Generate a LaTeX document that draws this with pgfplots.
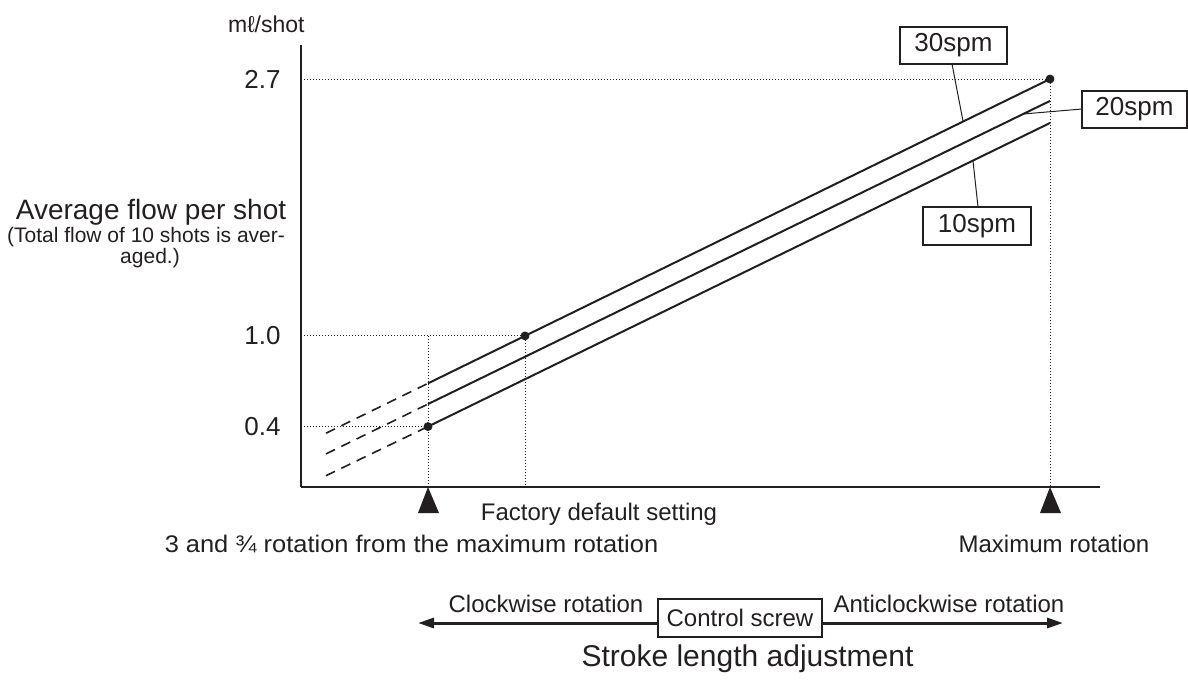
\documentclass[border=0pt]{standalone}
\usepackage{pgfplots}
\pgfplotsset{compat=1.18}
\usetikzlibrary{arrows.meta}
\usepackage{fontspec}
\setmainfont{Liberation Sans}
\definecolor{ink}{RGB}{35,31,32}
\begin{document}
\begin{tikzpicture}
\begin{scope}[x=0.5pt,y=-0.5pt]
\useasboundingbox (0,0) rectangle (1188,682);
\end{scope}
\begin{axis}[
 at={(150.5pt,-243.5pt)}, anchor=south west,
 scale only axis, width=399.5pt, height=221pt,
 xmin=301, xmax=1100, ymin=0, ymax=2.925,
 axis x line=bottom, axis y line=left,
 axis line style={-, line width=1pt, color=ink},
 xtick=\empty, ytick={0.4,1.0,2.7}, yticklabels={0.4,1.0,2.7},
 major tick length=0pt, tick style={draw=none},
 yticklabel style={font=\fontsize{13}{15}\selectfont, color=ink, inner sep=0pt, anchor=east, xshift=-10pt},
 clip=false,
]
% dotted guide lines
\addplot [ink, line width=0.5pt, dash pattern=on 0.6pt off 0.9pt] coordinates {(301,2.7) (1050,2.7) (1050,0)};
\addplot [ink, line width=0.5pt, dash pattern=on 0.6pt off 0.9pt] coordinates {(301,1.0) (525,1.0) (525,0)};
\addplot [ink, line width=0.5pt, dash pattern=on 0.6pt off 0.9pt] coordinates {(428,1.0) (428,0)};
\addplot [ink, line width=0.5pt, dash pattern=on 0.6pt off 0.9pt] coordinates {(301,0.4) (428,0.4)};
% 30 spm
\addplot [ink, line width=1pt] coordinates {(428,0.686) (1050,2.7)};
\addplot [ink, line width=0.8pt, dash pattern=on 5pt off 3.5pt] coordinates {(326,0.356) (428,0.686)};
% 20 spm
\addplot [ink, line width=1pt] coordinates {(428,0.549) (1050,2.555)};
\addplot [ink, line width=0.8pt, dash pattern=on 5pt off 3.5pt] coordinates {(326,0.219) (428,0.549)};
% 10 spm
\addplot [ink, line width=1pt] coordinates {(428,0.4) (1050,2.409)};
\addplot [ink, line width=0.8pt, dash pattern=on 5pt off 3.5pt] coordinates {(326,0.075) (428,0.4)};
% points
\addplot [only marks, mark=*, mark size=2pt, ink] coordinates {(1050,2.7) (525,1.0) (428,0.4)};
\end{axis}
\begin{scope}[x=0.5pt,y=-0.5pt, every node/.style={text=ink, inner sep=0pt}]
\node[anchor=base east, font=\fontsize{11.5}{14}\selectfont] at (305,32) {mℓ/shot};
\node[anchor=base, font=\fontsize{14}{17}\selectfont] at (151,219) {Average flow per shot};
\node[anchor=base, font=\fontsize{10.5}{13}\selectfont] at (146,242) {(Total flow of 10 shots is aver-};
\node[anchor=base, font=\fontsize{10.5}{13}\selectfont] at (150,263) {aged.)};
% triangles
\fill[ink] (428,487) -- (418,513) -- (439,513) -- cycle;
\fill[ink] (1050,487) -- (1040,513) -- (1061,513) -- cycle;
\node[anchor=base, font=\fontsize{12}{14}\selectfont] at (599,520) {Factory default setting};
\node[anchor=base, font=\fontsize{12}{14}\selectfont] at (411.5,552) {\scalebox{1.06}[1]{3 and ¾ rotation from the maximum rotation}};
\node[anchor=base, font=\fontsize{12}{14}\selectfont] at (1054,552) {Maximum rotation};
% spm labels
\draw[ink, line width=0.5pt] (952,64) -- (963,121);
\draw[ink, line width=0.5pt] (1082,109) -- (1023,114);
\draw[ink, line width=0.5pt] (978,207) -- (973,161);
\draw[ink, line width=0.6pt, fill=white] (900,27) rectangle (1007,64);
\node[font=\fontsize{13}{15}\selectfont] at (953.5,45.5) {30spm};
\draw[ink, line width=0.6pt, fill=white] (1082,91) rectangle (1187,128);
\node[font=\fontsize{13}{15}\selectfont] at (1134.5,109.5) {20spm};
\draw[ink, line width=0.6pt, fill=white] (923,207) rectangle (1031,245);
\node[font=\fontsize{13}{15}\selectfont] at (977,226) {10spm};
% rotation arrow
\draw[ink, line width=1.5pt, {Triangle[length=8pt,width=5pt]}-{Triangle[length=8pt,width=5pt]}] (418,623) -- (1063,623);
\draw[ink, line width=0.8pt, fill=white] (658,599) rectangle (822,637);
\node[anchor=base, font=\fontsize{12}{14}\selectfont] at (740,626) {Control screw};
\node[anchor=base, font=\fontsize{12}{14}\selectfont] at (546,612) {Clockwise rotation};
\node[anchor=base, font=\fontsize{12}{14}\selectfont] at (949,612) {Anticlockwise rotation};
\node[anchor=base, font=\fontsize{15}{18}\selectfont] at (747.5,666) {Stroke length adjustment};
\end{scope}
\end{tikzpicture}
\end{document}
